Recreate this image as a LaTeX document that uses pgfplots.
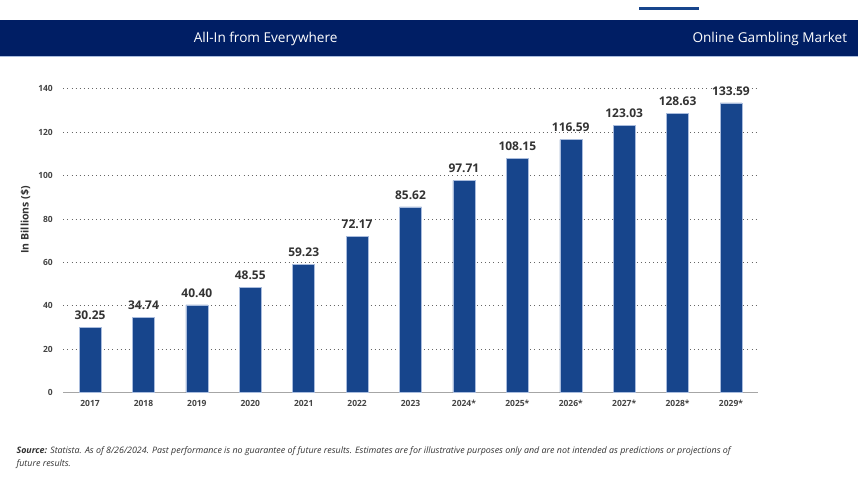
\documentclass[border=0pt]{standalone}
\usepackage{pgfplots}
\pgfplotsset{compat=1.18}
\usepackage{fontspec}
\setmainfont{Open Sans}
\definecolor{navy}{HTML}{001E64}
\definecolor{barblue}{HTML}{17458C}
\definecolor{baredge}{HTML}{A9BCDD}
\definecolor{lbl}{HTML}{333333}
\definecolor{tck}{HTML}{444444}
\begin{document}
\begin{tikzpicture}[x=1pt,y=1pt]
\path[fill=white] (0,0) rectangle (858,-478);
% top small line
\fill[barblue] (639,-7) rectangle (699,-10);
% header
\fill[navy] (0,-20) rectangle (858,-57);
\draw[color=baredge,line width=0.8pt] (0,-56.6) -- (858,-56.6);
\node[text=white,font=\fontsize{13.6}{15}\selectfont] at (265.5,-39) {All-In from Everywhere};
\node[text=white,font=\fontsize{13.6}{15}\selectfont,anchor=east] at (851,-39) {Online Gambling Market};
% y label
\node[rotate=90,text=lbl,font=\fontsize{10.5}{12}\selectfont\bfseries] at (25,-220) {In Billions (\$)};
\begin{axis}[
  at={(63pt,-393pt)}, anchor=south west,
  scale only axis, width=695pt, height=304pt,
  xmin=-0.5, xmax=12.5, ymin=0, ymax=140,
  clip=false,
  axis lines*=left,
  x axis line style={draw=black!35,line width=1pt,-},
  y axis line style={draw=none},
  xtick={0,...,12},
  xticklabels={2017,2018,2019,2020,2021,2022,2023,2024*,2025*,2026*,2027*,2028*,2029*},
  major tick length=0pt,
  xticklabel style={font=\fontsize{8.5}{10}\selectfont\bfseries,text=tck,yshift=-4pt},
  ytick={20,40,...,140},
  yticklabels={},
  ymajorgrids,
  grid style={dash pattern=on 0.9pt off 3.2pt,draw=black!60,line width=0.9pt},
  /pgf/number format/assume math mode=true,
]
\addplot[ybar,bar width=22pt,fill=barblue,draw=baredge,line width=0.5pt,
  nodes near coords,
  point meta=y,
  every node near coord/.append style={font=\fontsize{12}{14}\selectfont\bfseries,text=lbl,anchor=south,yshift=4pt,
     /pgf/number format/.cd,fixed,fixed zerofill,precision=2,assume math mode=true},
] coordinates {
(0,30.25) (1,34.74) (2,40.40) (3,48.55) (4,59.23) (5,72.17) (6,85.62)
(7,97.71) (8,108.15) (9,116.59) (10,123.03) (11,128.63) (12,133.59)};
\end{axis}
% y tick labels
\foreach \v in {0,20,40,60,80,100,120,140}{
  \node[anchor=east,text=tck,font=\fontsize{8.5}{10}\selectfont\bfseries] at (56,{-393+\v*2.1714}) {\v};
}
% footer
\node[anchor=north west,align=left,text=lbl,font=\fontsize{8.9}{13}\selectfont\itshape,inner sep=0pt] at (16,-447)
{\textbf{Source:} Statista. As of 8/26/2024. Past performance is no guarantee of future results. Estimates are for illustrative purposes only and are not intended as predictions or projections of\\ future results.};
\end{tikzpicture}
\end{document}
